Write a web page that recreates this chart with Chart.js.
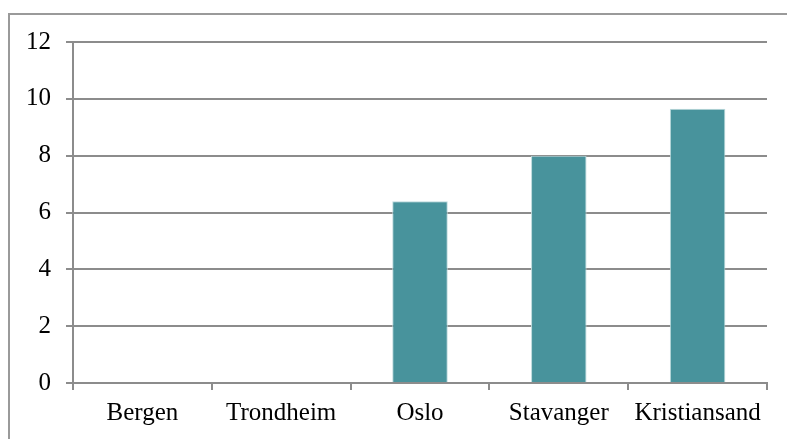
<!DOCTYPE html>
<html>
<head>
<meta charset="utf-8">
<script src="https://cdn.jsdelivr.net/npm/chart.js@4/dist/chart.umd.min.js"></script>
<style>
  html, body { margin: 0; padding: 0; background: #ffffff; }
  #wrap { position: relative; width: 787px; height: 439px; }
  canvas { position: absolute; left: 0; top: 0; }
</style>
</head>
<body>
<div id="wrap"><canvas id="c" width="787" height="439"></canvas></div>
<script>
const categories = ["Bergen", "Trondheim", "Oslo", "Stavanger", "Kristiansand"];
const values = [0, 0, 6.4, 8.0, 9.65];
const yTicks = [0, 2, 4, 6, 8, 10, 12];

const frame = {
  id: 'frame',
  beforeDraw(chart) {
    const ctx = chart.ctx;
    ctx.save();
    ctx.strokeStyle = '#9a9a9a';
    ctx.lineWidth = 2;
    ctx.beginPath();
    ctx.moveTo(800, 14);
    ctx.lineTo(9, 14);
    ctx.lineTo(9, 450);
    ctx.stroke();
    ctx.restore();
  }
};

const font = { family: "'Liberation Serif', 'Times New Roman', serif", size: 25 };

new Chart(document.getElementById('c'), {
  type: 'bar',
  data: {
    labels: categories,
    datasets: [{
      data: values,
      backgroundColor: '#48939c',
      borderColor: '#bcd9dc',
      borderWidth: 1,
      barPercentage: 0.4,
      categoryPercentage: 1.0
    }]
  },
  options: {
    responsive: false,
    animation: false,
    devicePixelRatio: 1,
    layout: { padding: { top: 42, right: 20, left: 0, bottom: 0 } },
    plugins: { legend: { display: false }, tooltip: { enabled: false } },
    scales: {
      x: {
        offset: true,
        grid: { display: true, drawOnChartArea: false, drawTicks: true, tickLength: 7, color: '#8c8c8c', lineWidth: 2, offset: true },
        border: { display: true, color: '#8c8c8c', width: 2 },
        ticks: { color: '#000', font: font, padding: 8, maxRotation: 0, autoSkip: false },
        afterFit(scale) { scale.height = 56; }
      },
      y: {
        min: 0, max: 12,
        afterBuildTicks(scale) { scale.ticks = yTicks.map(v => ({ value: v })); },
        grid: { color: '#8c8c8c', lineWidth: 2, tickLength: 7 },
        border: { display: true, color: '#8c8c8c', width: 2 },
        ticks: { color: '#000', font: font, padding: 15 },
        afterFit(scale) { scale.width = 73; }
      }
    }
  },
  plugins: [frame]
});
</script>
</body>
</html>
